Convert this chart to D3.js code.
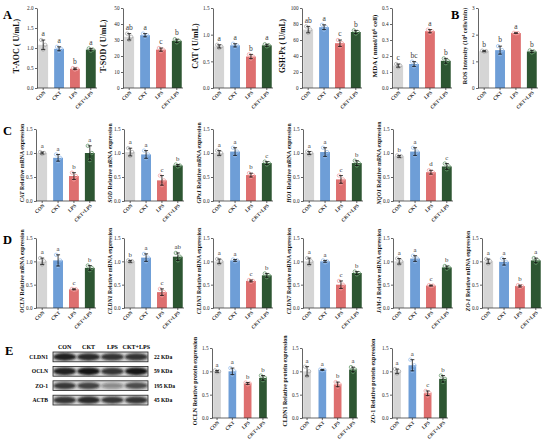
<!DOCTYPE html>
<html>
<head>
<meta charset="utf-8">
<script src="https://cdn.jsdelivr.net/npm/d3@7"></script>
<style>
  body { margin: 0; background: #fff; }
  text { font-family: "Liberation Serif", "Times New Roman", serif; }
</style>
</head>
<body>
<div id="fig"></div>
<script>
// groups and colours
const groups = ["CON", "CKT", "LPS", "CKT+LPS"];
const barColors = ["#d5d5d5", "#6e9ed7", "#de6f6f", "#2d5632"];
const dotColors = ["#aaaaaa", "#9dc1ee", "#f4a3a3", "#6a9b6e"];

// A: biochemical indices
const taocMean = [1.08, 0.98, 0.48, 0.96], taocSD = [0.12, 0.05, 0.02, 0.03], taocSig = ["a", "a", "b", "a"];
const tsodMean = [32, 33, 24, 29.5], tsodSD = [2, 1, 1, 1], tsodSig = ["ab", "a", "c", "b"];
const catMean = [0.78, 0.80, 0.59, 0.80], catSD = [0.03, 0.03, 0.04, 0.02], catSig = ["a", "a", "b", "a"];
const gshMean = [73, 76, 56, 70], gshSD = [4, 3, 4, 2], gshSig = ["ab", "a", "c", "b"];
const mdaMean = [0.14, 0.15, 0.355, 0.17], mdaSD = [0.01, 0.015, 0.01, 0.015], mdaSig = ["c", "bc", "a", "b"];
// B
const rosMean = [1.38, 1.42, 2.06, 1.37], rosSD = [0.02, 0.15, 0.01, 0.04], rosSig = ["b", "b", "a", "b"];

// C: antioxidant genes
const catGeneMean = [1.0, 0.90, 0.52, 1.0], catGeneSD = [0.02, 0.07, 0.07, 0.15], catGeneSig = ["a", "a", "b", "a"];
const sodMean = [1.02, 0.97, 0.43, 0.74], sodSD = [0.08, 0.08, 0.10, 0.02], sodSig = ["a", "a", "c", "b"];
const gpxMean = [1.0, 1.03, 0.54, 0.79], gpxSD = [0.05, 0.08, 0.04, 0.03], gpxSig = ["a", "a", "b", "c"];
const ho1Mean = [1.0, 1.02, 0.45, 0.79], ho1SD = [0.03, 0.09, 0.08, 0.05], ho1Sig = ["a", "a", "c", "b"];
const nqoMean = [0.93, 1.03, 0.60, 0.72], nqoSD = [0.02, 0.08, 0.04, 0.06], nqoSig = ["b", "a", "d", "c"];

// D: tight junction genes
const oclnMean = [1.0, 1.02, 0.40, 0.86], oclnSD = [0.07, 0.12, 0.01, 0.05], oclnSig = ["a", "a", "c", "b"];
const cldn1Mean = [1.0, 1.08, 0.34, 1.10], cldn1SD = [0.02, 0.08, 0.07, 0.08], cldn1Sig = ["b", "a", "c", "ab"];
const cldn3Mean = [1.0, 1.02, 0.58, 0.70], cldn3SD = [0.05, 0.02, 0.02, 0.04], cldn3Sig = ["a", "a", "c", "b"];
const cldn7Mean = [1.0, 1.0, 0.50, 0.75], cldn7SD = [0.07, 0.02, 0.08, 0.03], cldn7Sig = ["a", "a", "c", "b"];
const jamMean = [1.0, 1.06, 0.48, 0.87], jamSD = [0.06, 0.06, 0.01, 0.03], jamSig = ["a", "a", "c", "b"];
const zo1Mean = [1.0, 0.99, 0.47, 1.02], zo1SD = [0.05, 0.07, 0.02, 0.05], zo1Sig = ["a", "a", "b", "a"];

// E: protein levels
const oclnProtMean = [1.0, 1.0, 0.74, 0.86], oclnProtSD = [0.02, 0.07, 0.02, 0.05], oclnProtSig = ["a", "a", "b", "b"];
const cldn1ProtMean = [1.0, 1.03, 0.72, 1.04], cldn1ProtSD = [0.10, 0.01, 0.05, 0.05], cldn1ProtSig = ["a", "a", "b", "a"];
const zo1ProtMean = [1.0, 1.13, 0.53, 0.84], zo1ProtSD = [0.05, 0.12, 0.05, 0.07], zo1ProtSig = ["a", "a", "c", "b"];

// western blot
const blotRows = ["CLDN1", "OCLN", "ZO-1", "ACTB"];
const blotKDa = ["22 KDa", "59 KDa", "195 KDa", "45 KDa"];
const cldn1Bands = [0.95, 0.9, 0.85, 0.85];
const oclnBands = [0.95, 1.0, 0.85, 1.0];
const zo1Bands = [0.8, 0.75, 0.4, 0.7];
const actbBands = [0.85, 0.9, 0.8, 0.85];

const W = 550, H = 447;
const svg = d3.select("#fig").append("svg").attr("width", W).attr("height", H);

const f1 = d3.format(".1f"), f0 = d3.format("d");

const panels = [
  // row A / B
  { x0: 37, top: 8, bottom: 88, max: 2, ticks: [0, 0.5, 1, 1.5, 2], fmt: f1, mean: taocMean, sd: taocSD, sig: taocSig, label: ["", "T-AOC ( U/mL)"], lsize: 8, loff: 18 },
  { x0: 123, top: 8, bottom: 88, max: 50, ticks: [0, 10, 20, 30, 40, 50], fmt: f0, mean: tsodMean, sd: tsodSD, sig: tsodSig, label: ["", "T-SOD ( U/mL)"], lsize: 8, loff: 17 },
  { x0: 213, top: 8, bottom: 88, max: 1.5, ticks: [0, 0.5, 1, 1.5], fmt: f1, mean: catMean, sd: catSD, sig: catSig, label: ["", "CAT ( U/mL)"], lsize: 8, loff: 15 },
  { x0: 302, top: 8, bottom: 88, max: 100, ticks: [0, 20, 40, 60, 80, 100], fmt: f0, mean: gshMean, sd: gshSD, sig: gshSig, label: ["", "GSH-Px ( U/mL)"], lsize: 7.5, loff: 17 },
  { x0: 392, top: 8, bottom: 88, max: 0.5, ticks: [0, 0.1, 0.2, 0.3, 0.4, 0.5], fmt: f1, mean: mdaMean, sd: mdaSD, sig: mdaSig, label: ["", "MDA ( nmol/10", "6", " cell)"], lsize: 7, loff: 15 },
  { x0: 478, top: 8, bottom: 88, max: 3, ticks: [0, 1, 2, 3], fmt: f0, mean: rosMean, sd: rosSD, sig: rosSig, label: ["", "ROS Intensity (10", "4", " cells/min)"], lsize: 6.2, loff: 11 },
  // row C
  { x0: 36, top: 129, bottom: 201, max: 1.5, ticks: [0, 0.5, 1, 1.5], fmt: f1, mean: catGeneMean, sd: catGeneSD, sig: catGeneSig, label: ["CAT", " Relative mRNA expression"], lsize: 5.8, loff: 12 },
  { x0: 124, top: 129, bottom: 201, max: 1.5, ticks: [0, 0.5, 1, 1.5], fmt: f1, mean: sodMean, sd: sodSD, sig: sodSig, label: ["SOD", " Relative mRNA expression"], lsize: 5.8, loff: 12 },
  { x0: 213, top: 129, bottom: 201, max: 1.5, ticks: [0, 0.5, 1, 1.5], fmt: f1, mean: gpxMean, sd: gpxSD, sig: gpxSig, label: ["GPx1", " Relative mRNA expression"], lsize: 5.8, loff: 12 },
  { x0: 303, top: 129, bottom: 201, max: 1.5, ticks: [0, 0.5, 1, 1.5], fmt: f1, mean: ho1Mean, sd: ho1SD, sig: ho1Sig, label: ["HO1", " Relative mRNA expression"], lsize: 5.8, loff: 12 },
  { x0: 393, top: 129, bottom: 201, max: 1.5, ticks: [0, 0.5, 1, 1.5], fmt: f1, mean: nqoMean, sd: nqoSD, sig: nqoSig, label: ["NQO1", " Relative mRNA expression"], lsize: 5.8, loff: 12 },
  // row D
  { x0: 36, top: 238, bottom: 308, max: 1.5, ticks: [0, 0.5, 1, 1.5], fmt: f1, mean: oclnMean, sd: oclnSD, sig: oclnSig, label: ["OCLN", " Relative mRNA expression"], lsize: 5.8, loff: 12 },
  { x0: 124, top: 238, bottom: 308, max: 1.5, ticks: [0, 0.5, 1, 1.5], fmt: f1, mean: cldn1Mean, sd: cldn1SD, sig: cldn1Sig, label: ["CLDN1", " Relative mRNA expression"], lsize: 5.8, loff: 12 },
  { x0: 213, top: 238, bottom: 308, max: 1.5, ticks: [0, 0.5, 1, 1.5], fmt: f1, mean: cldn3Mean, sd: cldn3SD, sig: cldn3Sig, label: ["CLDN3", " Relative mRNA expression"], lsize: 5.8, loff: 12 },
  { x0: 303, top: 238, bottom: 308, max: 1.5, ticks: [0, 0.5, 1, 1.5], fmt: f1, mean: cldn7Mean, sd: cldn7SD, sig: cldn7Sig, label: ["CLDN7", " Relative mRNA expression"], lsize: 5.8, loff: 12 },
  { x0: 393, top: 238, bottom: 308, max: 1.5, ticks: [0, 0.5, 1, 1.5], fmt: f1, mean: jamMean, sd: jamSD, sig: jamSig, label: ["JAM-1", " Relative mRNA expression"], lsize: 5.8, loff: 12 },
  { x0: 482, top: 238, bottom: 308, max: 1.5, ticks: [0, 0.5, 1, 1.5], fmt: f1, mean: zo1Mean, sd: zo1SD, sig: zo1Sig, label: ["ZO-1", " Relative mRNA expression"], lsize: 5.8, loff: 12 },
  // row E
  { x0: 212, top: 348, bottom: 418, max: 1.5, ticks: [0, 0.5, 1, 1.5], fmt: f1, mean: oclnProtMean, sd: oclnProtSD, sig: oclnProtSig, label: ["", "OCLN  Relative protein expression"], lsize: 6, loff: 15, w: 56, pad: 0.5 },
  { x0: 302, top: 348, bottom: 418, max: 1.5, ticks: [0, 0.5, 1, 1.5], fmt: f1, mean: cldn1ProtMean, sd: cldn1ProtSD, sig: cldn1ProtSig, label: ["", "CLDN1  Relative protein expression"], lsize: 6, loff: 15, w: 56, pad: 0.5 },
  { x0: 392, top: 348, bottom: 418, max: 1.5, ticks: [0, 0.5, 1, 1.5], fmt: f1, mean: zo1ProtMean, sd: zo1ProtSD, sig: zo1ProtSig, label: ["", "ZO-1  Relative protein expression"], lsize: 6, loff: 17, w: 56, pad: 0.5 }
];

function drawPanel(p) {
  const g = svg.append("g");
  const w = p.w || 60;
  const x = d3.scaleBand().domain(groups).range([p.x0, p.x0 + w]).paddingInner(p.pad || 0.38).paddingOuter(0.08);
  const y = d3.scaleLinear().domain([0, p.max]).range([p.bottom, p.top]);
  const cx = i => x(groups[i]) + x.bandwidth() / 2;

  g.selectAll(".bar").data(p.mean).join("rect")
    .attr("x", (d, i) => x(groups[i]))
    .attr("y", d => y(d))
    .attr("width", x.bandwidth())
    .attr("height", d => y(0) - y(d))
    .attr("fill", (d, i) => barColors[i]);

  // replicate points sit at mean - sd, mean, mean + sd
  p.mean.forEach((m, i) => {
    const pts = [[-2, m + p.sd[i]], [2, m], [0, m - p.sd[i]]];
    g.selectAll(null).data(pts).join("circle")
      .attr("cx", d => cx(i) + d[0])
      .attr("cy", d => y(d[1]))
      .attr("r", 1.7)
      .attr("fill", "none")
      .attr("stroke", dotColors[i])
      .attr("stroke-width", 0.8);
  });

  // error bars
  p.mean.forEach((m, i) => {
    const hi = y(m + p.sd[i]), lo = y(m - p.sd[i]);
    g.append("line").attr("x1", cx(i)).attr("x2", cx(i)).attr("y1", hi).attr("y2", lo)
      .attr("stroke", "#111").attr("stroke-width", 0.8);
    [hi, lo].forEach(yy => g.append("line")
      .attr("x1", cx(i) - 2).attr("x2", cx(i) + 2).attr("y1", yy).attr("y2", yy)
      .attr("stroke", "#111").attr("stroke-width", 0.8));
  });

  // significance letters
  g.selectAll(".sig").data(p.sig).join("text")
    .attr("x", (d, i) => cx(i))
    .attr("y", (d, i) => y(p.mean[i] + p.sd[i]) - 3.8)
    .attr("text-anchor", "middle")
    .attr("font-size", p.top < 20 ? 7.5 : 6.8)
    .attr("fill", "#3a3a3a")
    .text(d => d);

  // axes
  const ya = g.append("g").attr("transform", `translate(${p.x0},0)`)
    .call(d3.axisLeft(y).tickValues(p.ticks).tickFormat(p.fmt).tickSize(2).tickSizeOuter(0).tickPadding(1.5));
  ya.selectAll("text").attr("font-size", 5.2).attr("font-family", "Liberation Sans, Arial, sans-serif").attr("fill", "#222");
  ya.selectAll("path, line").attr("stroke", "#222").attr("stroke-width", 0.7);

  const xa = g.append("g").attr("transform", `translate(0,${p.bottom})`)
    .call(d3.axisBottom(x).tickSize(2).tickSizeOuter(0));
  xa.select(".domain").attr("d", `M${p.x0},0H${p.x0 + w}`);
  xa.selectAll("path, line").attr("stroke", "#222").attr("stroke-width", 0.7);
  xa.selectAll("text")
    .attr("x", 0).attr("y", 0).attr("dy", 0)
    .attr("transform", "translate(2.5,5) rotate(-45)")
    .attr("text-anchor", "end")
    .attr("font-size", 5)
    .attr("font-weight", "bold")
    .attr("font-family", "Liberation Serif, serif")
    .attr("fill", "#222");

  // y label
  const lt = g.append("text")
    .attr("transform", `translate(${p.x0 - p.loff},${(p.top + p.bottom) / 2 - 2}) rotate(-90)`)
    .attr("text-anchor", "middle")
    .attr("font-size", p.lsize)
    .attr("font-weight", "bold")
    .attr("fill", "#111");
  if (p.label[0]) lt.append("tspan").attr("font-style", "italic").text(p.label[0]);
  lt.append("tspan").text(p.label[1]);
  if (p.label.length > 2) {
    lt.append("tspan").attr("dy", -p.lsize * 0.35).attr("font-size", p.lsize * 0.65).text(p.label[2]);
    lt.append("tspan").attr("dy", p.lsize * 0.35).text(p.label[3]);
  }
}

panels.forEach(drawPanel);

// panel letters
const letters = [["A", 3, 19], ["B", 451, 19], ["C", 3, 135], ["D", 3, 244], ["E", 5, 355]];
svg.selectAll(".pl").data(letters).join("text")
  .attr("x", d => d[1]).attr("y", d => d[2])
  .attr("font-size", 12.5).attr("font-weight", "bold")
  .text(d => d[0]);

// western blot
const defs = svg.append("defs");
defs.append("filter").attr("id", "blur").attr("x", "-30%").attr("y", "-60%").attr("width", "160%").attr("height", "220%")
  .append("feGaussianBlur").attr("stdDeviation", "1.1 0.9");

const lane = d3.scaleBand().domain(groups).range([53, 148]).paddingInner(0.12).paddingOuter(0.05);
const row = d3.scaleBand().domain(blotRows).range([352, 405]).paddingInner(0.32);
const bandData = [cldn1Bands, oclnBands, zo1Bands, actbBands];

svg.selectAll(".hdr").data(groups).join("text")
  .attr("x", d => lane(d) + lane.bandwidth() / 2)
  .attr("y", 349)
  .attr("text-anchor", "middle")
  .attr("font-size", 6).attr("font-weight", "bold")
  .text(d => d);

blotRows.forEach((r, ri) => {
  const y0 = row(r), h = row.bandwidth();
  svg.append("rect").attr("x", 53).attr("y", y0).attr("width", 95).attr("height", h)
    .attr("fill", "#d6d6d6").attr("stroke", "#222").attr("stroke-width", 0.8);
  const clip = "clip" + ri;
  defs.append("clipPath").attr("id", clip).append("rect")
    .attr("x", 53).attr("y", y0).attr("width", 95).attr("height", h);
  svg.append("g").attr("clip-path", `url(#${clip})`)
    .selectAll("ellipse").data(bandData[ri]).join("ellipse")
    .attr("cx", (d, i) => lane(groups[i]) + lane.bandwidth() / 2)
    .attr("cy", y0 + h / 2)
    .attr("rx", lane.bandwidth() / 2 + 1)
    .attr("ry", d => h * 0.22 + h * 0.18 * d)
    .attr("fill", "#141414")
    .attr("fill-opacity", d => d)
    .attr("filter", "url(#blur)");
  svg.append("text").attr("x", 48).attr("y", y0 + h / 2 + 2)
    .attr("text-anchor", "end").attr("font-size", 5.6).attr("font-weight", "bold").text(r);
  svg.append("text").attr("x", 154).attr("y", y0 + h / 2 + 2)
    .attr("font-size", 5.6).attr("font-weight", "bold").text(blotKDa[ri]);
});
</script>
</body>
</html>
